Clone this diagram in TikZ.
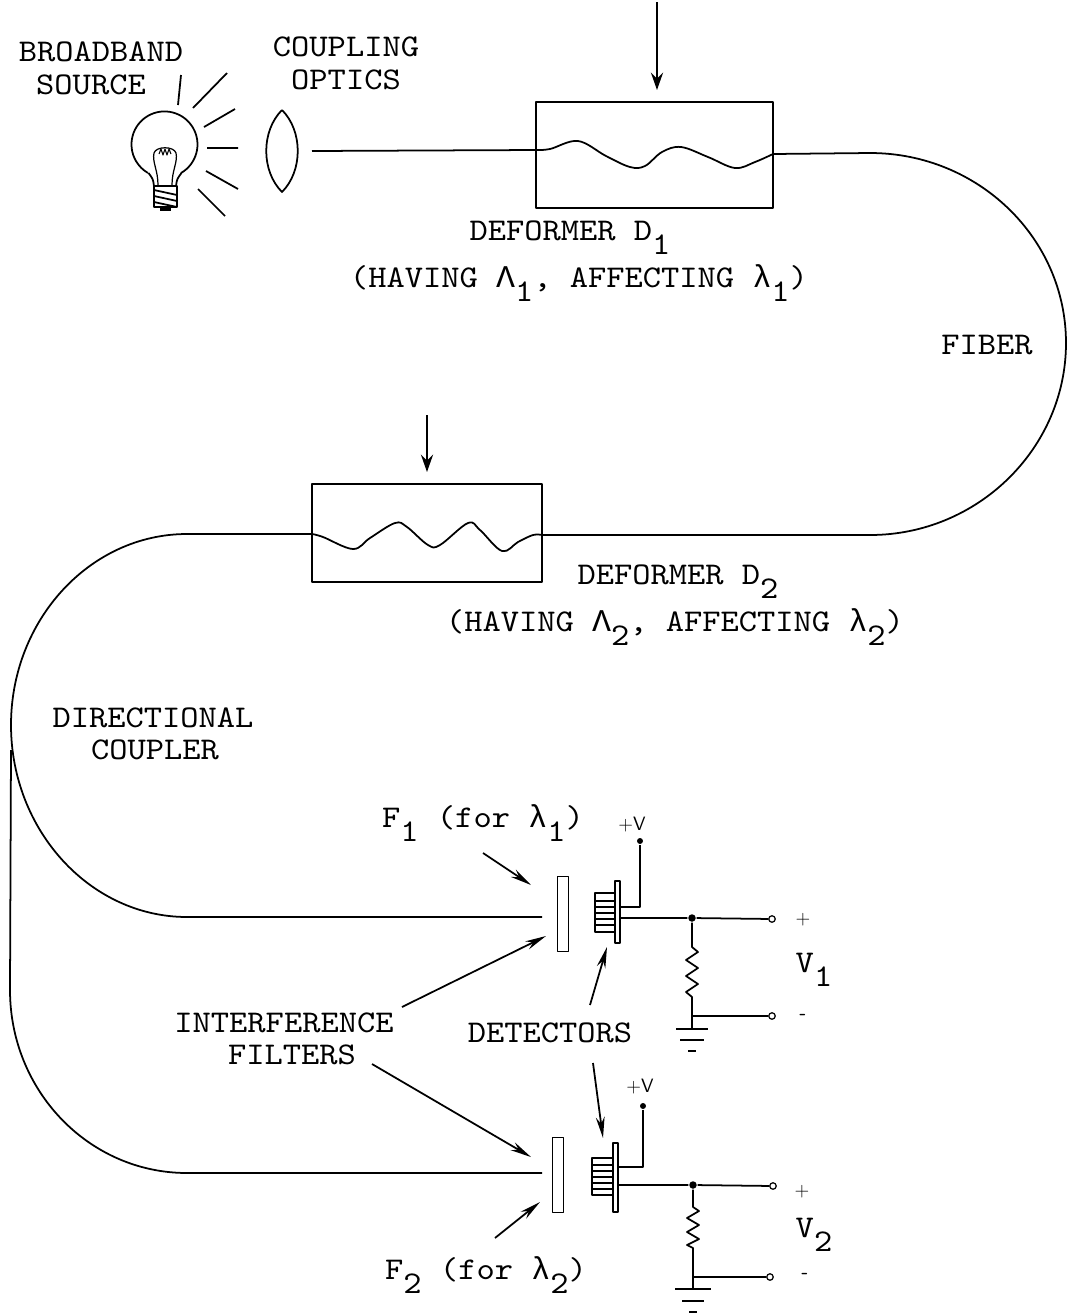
\documentclass[tikz,border=0pt]{standalone}
\usepackage{fontspec}
\newfontfamily\typewriter{lmmono10-regular.otf}[FakeStretch=1.1]
\newfontfamily\greek{Liberation Mono}
\usetikzlibrary{arrows.meta,positioning}
\newcommand\lo[1]{\raisebox{-8.5pt}{#1}}
\newcommand\gr[1]{{\greek #1}}

\begin{document}
\begin{tikzpicture}[x=0.02cm,y=-0.02cm,line width=1pt,line join=round,
	txt/.style={font=\typewriter\fontsize{18}{22}\selectfont,inner sep=0pt,anchor=base},
	small/.style={font=\sffamily\fontsize{11}{13}\selectfont,inner sep=0pt},
	deformer/.style={draw,rectangle,inner sep=0pt},
	filter/.style={draw,rectangle,inner sep=0pt,minimum width=0.22cm,minimum height=1.5cm},
	press/.style={-{Stealth[length=10pt,width=7pt,inset=3.5pt]}},
	pointer/.style={-{Stealth[length=12pt,width=5pt]}},
	term/.style={draw,circle,fill=white,inner sep=0pt,minimum size=0.13cm,line width=0.7pt},
	dot/.style={fill,circle,inner sep=0pt,minimum size=0.15cm}]

	\useasboundingbox (0,0) rectangle (1074,1313);

	% lamp and lens
	\coordinate (lamp) at (165,144);
	\draw (181,173) arc[start angle=60,end angle=-240,radius=33];
	\draw (148.5,173) .. controls (153,179) .. (154,186);
	\draw (181.5,173) .. controls (177,179) .. (176,186);
	\draw (154,186) rectangle (177,207);
	\draw (154,190) -- (177,195) (154,196) -- (177,201) (154,202) -- (177,207);
	\fill (160,207) rectangle (171,211);
	\draw[line width=0.7pt] (158,185) .. controls (158,170) and (152,162) .. (154,153) .. controls (156,146) and (174,146) .. (176,153) .. controls (178,162) and (172,170) .. (172,185);
	\draw[line width=0.6pt] (159,154) -- (161,149) -- (163,155) -- (165,149) -- (167,155) -- (169,149) -- (171,154);
	\draw (181,75) -- (178,105) (227,73) -- (193,108) (235,109) -- (204,127)
		(207,148) -- (238,148) (206,171) -- (238,189) (198,189) -- (225,216);

	\coordinate (lens) at (282,151);
	\draw (282,110) .. controls (261,131) and (261,171) .. (282,192) .. controls (303,171) and (303,131) .. (282,110);
	\coordinate (lensout) at (312,151);

	% deformers
	\node[deformer,minimum width=4.74cm,minimum height=2.12cm] (d1) at (654.5,155) {};
	\node[deformer,minimum width=4.6cm,minimum height=1.96cm] (d2) at (427,533) {};
	\coordinate (d1in) at (536,150);
	\coordinate (d1out) at (773,154);
	\coordinate (d2in) at (542,535);
	\coordinate (d2out) at (312,534);

	\draw (lensout) -- (d1in);
	\draw plot[smooth,tension=0.6] coordinates {(536,150) (550,149) (578,141) (606,156) (630,167) (645,166) (662,152) (681,147) (708,157) (735,168) (755,162) (773,154)};
	\draw (d1out) -- (870,153) .. controls (978,153) and (1066,238) .. (1066,343)
		.. controls (1066,448) and (978,535) .. (870,535) -- (d2in);
	\draw plot[smooth,tension=0.6] coordinates {(542,535) (533,535) (518,542) (502,551) (480,530) (468,523) (440,545) (428,545) (407,527) (395,523) (370,538) (353,549) (323,537) (312,534)};

	% coupler and the two output arms
	\coordinate (coupler) at (11,750);
	\node[filter] (f1) at (563,914) {};
	\node[filter] (f2) at (558,1175) {};
	\draw (d2out) -- (187,534) .. controls (90,534) and (11,620) .. (11,725)
		.. controls (11,830) and (90,917) .. (187,917) -- (542,917);
	\draw (coupler) -- (10,990) .. controls (10,1091) and (89,1173) .. (187,1173) -- (542,1173);

	% detectors
	\draw (595,893) rectangle (615,932);
	\draw[line width=0.7pt] (596,901) -- (615,901) (596,907) -- (615,907) (596,913) -- (615,913) (596,919) -- (615,919) (596,925) -- (615,925);
	\draw (615,881) rectangle (620,943);
	\draw (592,1158) rectangle (613,1195);
	\draw[line width=0.7pt] (593,1165) -- (613,1165) (593,1171) -- (613,1171) (593,1177) -- (613,1177) (593,1183) -- (613,1183) (593,1189) -- (613,1189);
	\draw (613,1143) rectangle (618,1212);

	% load circuits
	\node[dot,minimum size=0.12cm] (vp1) at (640,841) {};
	\node[dot] (j1) at (692,918) {};
	\node[term] (t1p) at (772,919) {};
	\node[term] (t1m) at (772,1016) {};
	\coordinate (g1) at (692,1016);
	\draw (vp1) -- (640,907) -- (620,907);
	\draw (620,918) -- (j1) -- (t1p);
	\draw (j1) -- (692,947) -- (698,952) -- (686,960) -- (698,968) -- (686,976) -- (698,984) -- (686,992) -- (692,997) -- (g1) -- (t1m);
	\draw (g1) -- (692,1029);
	\draw (676,1029) -- (708,1029) (680,1040) -- (704,1040) (688,1051) -- (696,1051);

	\node[dot,minimum size=0.12cm] (vp2) at (643,1106) {};
	\node[dot] (j2) at (693,1185) {};
	\node[term] (t2p) at (773,1186) {};
	\node[term] (t2m) at (770,1277) {};
	\coordinate (g2) at (693,1277);
	\draw (vp2) -- (643,1167) -- (618,1167);
	\draw (618,1185) -- (j2) -- (t2p);
	\draw (j2) -- (693,1207) -- (699,1211) -- (687,1218) -- (699,1225) -- (687,1232) -- (699,1239) -- (687,1245) -- (693,1248) -- (g2) -- (t2m);
	\draw (g2) -- (693,1289);
	\draw (675,1289) -- (711,1289) (682,1301) -- (704,1301) (689,1312) -- (697,1312);

	% labels
	\node[txt] (src) at (101,61) {BROADBAND};
	\node[txt] at (91,94) {SOURCE};
	\node[txt] (optics) at (346,56) {COUPLING};
	\node[txt] at (346,89) {OPTICS};
	\node[txt] (d1lab) at (570,240) {DEFORMER D\lo{1}};
	\node[txt] at (579,287) {(HAVING \gr{Λ}\lo{1}, AFFECTING \gr{λ}\lo{1})};
	\node[txt] (fiber) at (987,354) {FIBER};
	\node[txt] (d2lab) at (678,584) {DEFORMER D\lo{2}};
	\node[txt] at (675,631) {(HAVING \gr{Λ}\lo{2}, AFFECTING \gr{λ}\lo{2})};
	\node[txt] (dc) at (153,727) {DIRECTIONAL};
	\node[txt] at (155,759) {COUPLER};
	\node[txt] (f1lab) at (483,827) {F\lo{1} (for \gr{λ}\lo{1})};
	\node[txt] (iflab) at (284,1032) {INTERFERENCE};
	\node[txt] at (292,1064) {FILTERS};
	\node[txt] (detlab) at (550,1042) {DETECTORS};
	\node[txt] (f2lab) at (486,1279) {F\lo{2} (for \gr{λ}\lo{2})};
	\node[txt] (v1) at (814,972) {V\lo{1}};
	\node[txt] (v2) at (814,1237) {V\lo{2}};
	\node[small] at (632,825) {+V};
	\node[small] at (640,1087) {+V};
	\node[small] at (803,920) {+};
	\node[small,font=\sffamily\bfseries\fontsize{11}{13}\selectfont] at (803,1017) {-};
	\node[small] at (802,1192) {+};
	\node[small,font=\sffamily\bfseries\fontsize{11}{13}\selectfont] at (805,1276) {-};

	% arrows
	\coordinate (push1) at (657,2);
	\coordinate (push2) at (427,415);
	\draw[press] (push1) -- (657,90);
	\draw[press] (push2) -- (427,472);
	\coordinate (f1tail) at (483,853);
	\coordinate (f1tip) at (531,885);
	\coordinate (iftail1) at (402,1007);
	\coordinate (iftip1) at (546,936);
	\coordinate (iftail2) at (372,1064);
	\coordinate (iftip2) at (531,1157);
	\coordinate (dettail1) at (590,1005);
	\coordinate (dettip1) at (607,947);
	\coordinate (dettail2) at (593,1063);
	\coordinate (dettip2) at (603,1138);
	\coordinate (f2tail) at (495,1238);
	\coordinate (f2tip) at (540,1202);
	\draw[pointer] (f1tail) -- (f1tip);
	\draw[pointer] (iftail1) -- (iftip1);
	\draw[pointer] (iftail2) -- (iftip2);
	\draw[pointer] (dettail1) -- (dettip1);
	\draw[pointer] (dettail2) -- (dettip2);
	\draw[pointer] (f2tail) -- (f2tip);

\end{tikzpicture}
\end{document}
